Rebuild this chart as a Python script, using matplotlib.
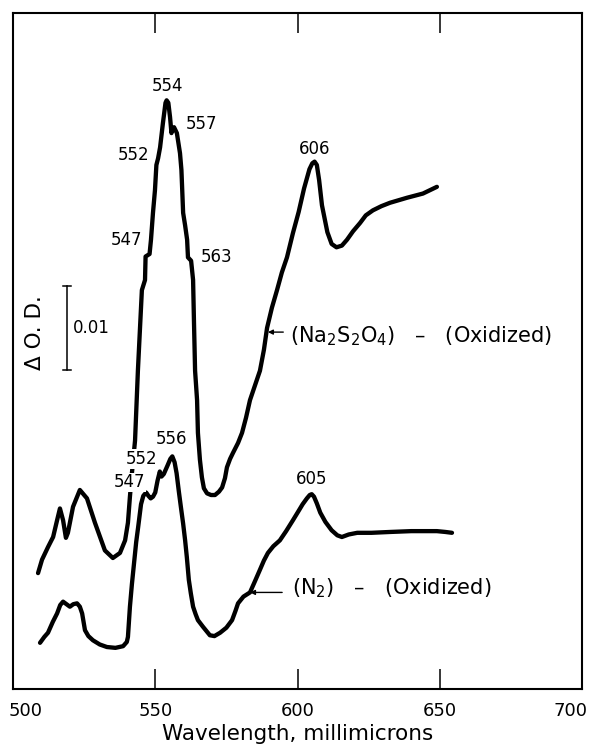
import matplotlib
matplotlib.use("Agg")
import matplotlib.pyplot as plt
from matplotlib.transforms import ScaledTranslation

# Difference spectra; absorbance in units of 0.001 optical density
wl_dithionite = [508.8, 510.2, 512.3, 514.1, 515.5, 516.5, 517.6, 518.6, 519.3,
                 521.1, 523.5, 526.0, 528.8, 532.3, 535.1, 537.6, 539.4, 540.4,
                 541.1, 541.8, 542.9, 543.9, 545.3, 546.4, 546.6, 548.0, 548.5,
                 549.2, 549.9, 550.4, 551.0, 551.7, 552.7, 553.6, 554.0, 554.6,
                 555.2, 555.7, 556.2, 556.6, 557.6, 558.7, 559.2, 559.8, 560.5,
                 561.2, 561.5, 562.6, 563.3, 563.6, 564.0, 564.7, 565.0, 565.7,
                 566.4, 567.1, 568.2, 569.6, 571.0, 572.4, 573.5, 574.5, 575.2,
                 576.3, 577.3, 579.1, 580.5, 581.9, 583.3, 585.1, 586.8, 588.2,
                 589.3, 591.0, 592.8, 594.5, 596.3, 598.4, 600.4, 602.3, 604.2,
                 605.2, 606.0, 606.8, 607.6, 608.6, 610.5, 612.0, 613.7, 615.6,
                 617.4, 619.5, 622.0, 624.0, 626.5, 629.5, 632.5, 638.5, 644.1,
                 649.0]
od_dithionite = [13.8, 15.4, 16.9, 18.1, 20.1, 21.5, 20.1, 18.0, 18.6,
                 21.7, 23.7, 22.7, 19.8, 16.5, 15.6, 16.2, 17.7, 19.8,
                 22.9, 25.7, 29.6, 37.9, 47.5, 48.7, 51.5, 51.8, 53.5,
                 56.7, 59.4, 62.4, 63.2, 64.5, 67.4, 69.8, 70.1, 69.8,
                 68.1, 66.2, 66.8, 66.9, 66.2, 63.8, 61.8, 56.7, 55.2,
                 53.5, 51.4, 51.0, 48.7, 43.9, 37.9, 34.4, 30.5, 27.3,
                 25.2, 23.9, 23.3, 23.1, 23.1, 23.5, 24.0, 25.1, 26.4,
                 27.4, 28.1, 29.3, 30.5, 32.3, 34.4, 36.2, 37.9, 40.4,
                 43.0, 45.4, 47.5, 49.6, 51.4, 54.3, 56.8, 59.6, 61.9,
                 62.6, 62.8, 62.4, 60.6, 57.6, 54.4, 53.0, 52.6, 52.8,
                 53.5, 54.5, 55.5, 56.4, 57.0, 57.5, 57.9, 58.5, 59.0,
                 59.8]

wl_nitrogen = [509.5, 511.0, 512.3, 514.0, 515.5, 516.6, 517.6, 518.8, 520.0,
               521.2, 522.5, 523.5, 524.3, 525.3, 526.5, 528.1, 530.5, 533.0,
               536.0, 538.7, 540.0, 540.4, 541.1, 541.8, 542.4, 543.3, 544.0,
               545.0, 545.8, 546.8, 547.6, 548.4, 549.2, 550.0, 550.8, 551.6,
               552.2, 553.0, 554.3, 555.3, 556.0, 556.8, 557.5, 558.3, 559.0,
               559.8, 560.5, 561.1, 561.8, 562.5, 563.3, 564.2, 565.0, 566.8,
               569.2, 570.8, 572.8, 575.0, 577.0, 578.2, 579.1, 581.0, 583.3,
               585.0, 586.8, 588.2, 589.6, 591.5, 593.8, 596.0, 598.4, 600.2,
               601.8, 603.3, 604.3, 605.0, 605.8, 606.8, 608.0, 609.8, 612.0,
               614.0, 615.6, 618.0, 621.0, 626.0, 632.5, 640.0, 645.0, 649.0,
               652.0, 654.3]
od_nitrogen = [5.5, 6.2, 6.7, 8.0, 9.0, 10.0, 10.4, 10.1, 9.8,
               10.1, 10.2, 9.8, 9.0, 7.0, 6.3, 5.8, 5.3, 5.0,
               4.9, 5.1, 5.6, 6.2, 9.8, 12.5, 14.5, 17.5, 19.3,
               22.0, 23.0, 23.4, 23.0, 22.7, 22.9, 23.4, 24.8, 25.9,
               25.3, 25.6, 26.6, 27.4, 27.7, 27.0, 25.7, 23.5, 21.7,
               19.7, 17.7, 15.7, 13.0, 11.4, 9.8, 8.9, 8.2, 7.4,
               6.4, 6.3, 6.7, 7.3, 8.2, 9.3, 10.2, 11.0, 11.5,
               12.8, 14.2, 15.3, 16.2, 17.0, 17.7, 18.8, 20.1, 21.1,
               22.0, 22.7, 23.1, 23.2, 22.9, 22.1, 21.0, 19.9, 18.9,
               18.3, 18.1, 18.4, 18.6, 18.6, 18.7, 18.8, 18.8, 18.8,
               18.7, 18.6]

# Marked absorption bands: (wavelength, text x, text y)
bands_dithionite = [(554, 554.3, 71.8), (557, 566.3, 67.3), (552, 542.4, 63.6),
                    (547, 539.9, 53.5), (563, 571.4, 51.5), (606, 606.0, 64.3)]
bands_nitrogen = [(556, 555.6, 29.8), (552, 545.2, 27.4), (547, 540.8, 24.6),
                  (605, 605.0, 25.0)]

x_ticks = [500, 550, 600, 650, 700]
scale_bar = 10  # 0.01 O.D. in units of 0.001

fig = plt.figure(figsize=(5.89, 7.44), dpi=100)
ax = fig.add_axes([13 / 589, 1 - 689 / 744, 569 / 589, 676 / 744])
ax.set_xlim(500, 700)
ax.set_ylim(0, 80.5)

line_kw = dict(color="black", lw=3.1, solid_capstyle="round", solid_joinstyle="round", zorder=2)
ax.plot(wl_dithionite, od_dithionite, **line_kw)
ax.plot(wl_nitrogen, od_nitrogen, **line_kw)

for spine in ax.spines.values():
    spine.set_linewidth(1.5)

ax.set_xticks(x_ticks)
ax.set_xticklabels([str(t) for t in x_ticks])
ax.set_yticks([])
ax.tick_params(axis="x", direction="in", length=14.5, width=1.1, top=True,
               labelsize=13, pad=9)
labels = ax.get_xticklabels()
labels[0].set_transform(labels[0].get_transform() + ScaledTranslation(13 / 100, 0, fig.dpi_scale_trans))
labels[-1].set_transform(labels[-1].get_transform() + ScaledTranslation(-12 / 100, 0, fig.dpi_scale_trans))

ax.set_xlabel("Wavelength, millimicrons", fontsize=15.5, labelpad=3)

num_kw = dict(fontsize=12, ha="center", va="center", zorder=4)
for value, tx, ty in bands_dithionite:
    ax.text(tx, ty, str(value), **num_kw)
for value, tx, ty in bands_nitrogen:
    ax.text(tx, ty, str(value),
            bbox=dict(facecolor="white", edgecolor="none", pad=0.6), **num_kw)

# Curve identification with arrows
ax.annotate("", xy=(589.6, 42.5), xytext=(595.0, 42.5),
            arrowprops=dict(arrowstyle="-|>", color="black", lw=1.0, mutation_scale=7,
                            shrinkA=0, shrinkB=0))
ax.text(597.4, 42.0, r"(Na$_2$S$_2$O$_4$)   –   (Oxidized)", fontsize=15,
        ha="left", va="center")
ax.annotate("", xy=(583.3, 11.5), xytext=(594.6, 11.5),
            arrowprops=dict(arrowstyle="-|>", color="black", lw=1.0, mutation_scale=7,
                            shrinkA=0, shrinkB=0))
ax.text(598.1, 12.0, r"(N$_2$)   –   (Oxidized)", fontsize=15, ha="left", va="center")

# Ordinate scale bar
bar_x, bar_y0 = 519.0, 38.0
ax.plot([bar_x, bar_x], [bar_y0, bar_y0 + scale_bar], color="black", lw=1.1)
for yy in (bar_y0, bar_y0 + scale_bar):
    ax.plot([bar_x - 1.5, bar_x + 1.5], [yy, yy], color="black", lw=1.1)
ax.text(521.2, bar_y0 + scale_bar / 2, "0.01", fontsize=12, ha="left", va="center")
ax.text(507.9, 42.5, "Δ O. D.", fontsize=15.5, rotation=90, ha="center", va="center")

fig.savefig("out.png", dpi=100)
